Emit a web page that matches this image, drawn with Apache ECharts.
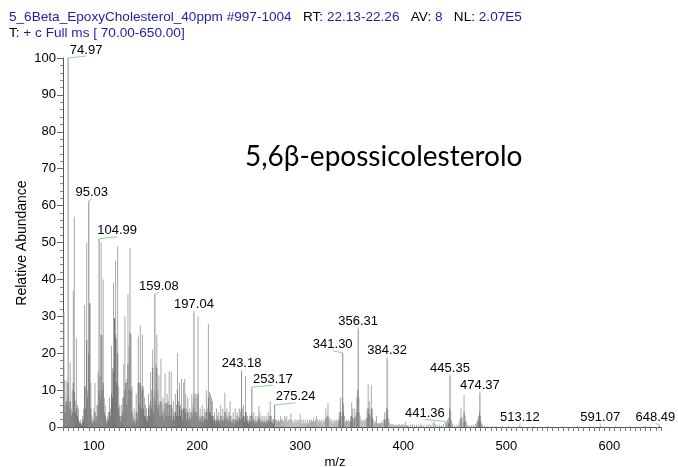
<!DOCTYPE html>
<html>
<head>
<meta charset="utf-8">
<script src="https://cdn.jsdelivr.net/npm/echarts@6/dist/echarts.min.js"></script>
<style>
  html, body { margin: 0; padding: 0; background: #fff; }
  #chart { width: 678px; height: 467px; }
</style>
</head>
<body>
<div id="chart"></div>
<script>
// Mass spectrum of 5,6beta-epoxycholesterol, scans #997-1004 averaged.

// Nominal-mass stick intensities (relative %), one value per m/z starting at runStart.
const runStart = 70;
const lightRun = [
  4, 31, 6, 12.6, 8, 12, 7, 17.5, 5, 10,          // 70-79
  37, 57, 7, 24, 6, 5, 1.5, 2, 1, 3,              // 80-89
  5, 33, 11, 50, 10, 20, 33.5, 12, 3, 2,          // 90-99
  5, 12, 3, 6, 15, 14, 14, 50, 25, 40,            // 100-109
  8, 6, 2, 3, 4, 8, 5, 22, 16, 39,                // 110-119
  29.5, 45, 24, 49, 11, 6, 3, 6, 8, 17,           // 120-129
  30, 12, 13, 36, 22, 48.5, 25, 11, 3, 5,         // 130-139
  2, 9, 4, 24.5, 12, 27.5, 11, 25, 11, 8,         // 140-149
  6, 5, 3, 9, 6, 15, 10, 21, 8, 10,               // 150-159
  17, 25, 10, 14, 7, 18.5, 6, 8, 5, 14.5,         // 160-169
  6, 9, 7, 15, 6, 15, 5, 7, 4, 9,                 // 170-179
  6, 20, 7, 12, 6, 13, 5, 12, 13, 9,              // 180-189
  5, 8, 4, 5, 4, 9, 6, 8, 9, 9,                   // 190-199
  8, 30, 3, 5, 3, 6, 3, 5, 4, 10,                 // 200-209
  5, 28, 9.5, 9, 8, 7, 3, 4, 2, 5,                // 210-219
  3, 4, 2, 6, 3, 5, 3, 9.3, 4, 5,                 // 220-229
  3, 4, 7, 3, 2, 4, 2, 5, 3, 4,                   // 230-239
  3, 5, 4, 5, 5, 6, 3, 13.8, 4, 3,                // 240-249
  2, 3, 3, 4, 3, 4, 2, 3, 2, 3,                   // 250-259
  5.7, 4, 2, 3, 2, 3, 2, 3, 2, 4,                 // 260-269
  3, 7, 3, 2, 2, 2, 2, 2, 1.5, 2,                 // 270-279
  1.5, 3, 2, 2, 1.5, 3, 2, 3, 1.5, 2,             // 280-289
  2, 3.7, 2, 1.5, 1, 2, 1.5, 2, 1.5, 2,           // 290-299
  3.5, 2, 1, 2, 1, 2, 1, 2, 1, 2,                 // 300-309
  1.5, 2, 1.5, 2.5, 1.5, 2, 3, 2, 1.5, 2,         // 310-319
  1.5, 2, 1, 2, 1.5, 5, 3, 6.5, 2, 2.5,           // 320-329
  1.5, 2, 1, 2, 1.5, 2, 1.5, 2, 4, 8,             // 330-339
  3, 5, 6.4, 3, 1.5, 2, 1.5, 2, 1.5, 3,           // 340-349
  6.6, 5, 2, 5, 3, 8, 9, 8, 3, 2,                 // 350-359
  1.5, 2, 1.5, 2, 2.5, 5, 11.6, 7, 3, 11.3,       // 360-369
  5, 2, 1, 1.5, 3, 1, 1, 1, 1, 1.5,               // 370-379
  1, 2, 4, 2, 4, 5, 2, 1, 0.8, 0.6,               // 380-389
  0.8, 0.5, 0.6, 0.5, 0.6, 0.5, 0.8, 0.5, 0.6, 0.8, // 390-399
  0.6, 0.5, 1.4, 0.6                              // 400-403
];

// Lower-lying dense signal in the fragment-rich region (m/z 70-275).
const darkRun = [
  4, 12.6, 4, 7, 6, 12, 5, 7, 3, 4,               // 70-79
  12, 9.5, 4, 5, 3, 2, 1, 1, 0.5, 1.5,            // 80-89
  2, 11, 5, 23.5, 8, 20, 33.5, 5, 1.5, 1,         // 90-99
  2, 4, 1.5, 3, 6, 10, 8, 25, 10, 12,             // 100-109
  4, 3, 1, 1.5, 2, 4, 3, 9, 8, 15,                // 110-119
  29.5, 25, 12, 20, 5, 3, 1.5, 3, 4, 8,           // 120-129
  10, 12, 6, 17, 10, 25.5, 10, 4, 1.5, 2,         // 130-139
  1, 4, 2, 12, 6, 12, 5, 10, 5, 3,                // 140-149
  3, 2, 1.5, 5, 3, 7, 5, 16, 4, 6,                // 150-159
  7, 16, 5, 6, 3, 7, 3, 4, 2, 6.5,                // 160-169
  3, 6.5, 3, 6, 3, 6, 2, 3, 2, 4,                 // 170-179
  3, 10, 3, 5.5, 3, 4.5, 2, 5, 5, 4,              // 180-189
  2, 4, 2, 2.5, 2, 4, 3, 5, 4, 4,                 // 190-199
  3, 9, 1.5, 2.5, 1.5, 3, 1.5, 2.5, 2, 4,         // 200-209
  2, 8, 4, 4, 3, 3, 1.5, 2, 1, 2,                 // 210-219
  1.5, 2, 1, 3, 1.5, 2, 1.5, 4, 2, 2.5,           // 220-229
  1.5, 2, 3, 1.5, 1, 2, 1, 2, 1.5, 2,             // 230-239
  1.5, 2.5, 2, 5, 2.5, 3, 1.5, 4, 2, 1.5,         // 240-249
  1, 1.5, 1.5, 3, 1.5, 2, 1, 1.5, 1, 1.5,         // 250-259
  2.5, 2, 1, 1.5, 1, 1.5, 1, 1.5, 1, 2,           // 260-269
  1.5, 3, 1.5, 1, 1, 2.5                          // 270-275
];

// Dense signal under the high-mass clusters.
const darkExtraMz  = [325, 327, 338, 339, 341, 342, 349, 350, 351, 353, 355, 356, 357, 365, 366, 367, 369, 370, 382, 384, 385, 444, 445, 446, 456, 459, 460, 473, 474, 475];
const darkExtraInt = [2.5, 3, 2, 4, 8, 4, 1.5, 3, 2.5, 2.5, 4, 10, 4, 2.5, 5, 3.5, 5, 2.5, 2, 5, 2.5, 1, 5, 2, 2.5, 4, 1.5, 1.5, 4, 1.5];

// Sparse sticks above m/z 403.
const tailMz  = [404, 405, 407, 409, 411, 413, 415, 417, 418, 420, 423, 425, 427, 429, 430, 431, 433, 435, 437, 439, 442, 443, 444, 446, 447, 448, 450, 452, 454, 455, 456, 457, 458, 459, 460, 461, 462, 464, 466, 468, 470, 471, 472, 473, 475, 476, 477, 479, 482, 486, 490, 496, 502, 526, 540, 555, 569, 606, 620, 635];
const tailInt = [0.5, 0.4, 0.6, 0.8, 0.5, 0.6, 0.5, 1.0, 0.6, 0.5, 0.6, 0.8, 0.6, 1.2, 1.5, 0.8, 0.5, 0.6, 0.5, 0.8, 1.0, 2.0, 2.5, 4.5, 1.5, 0.8, 0.5, 0.6, 1.0, 2.0, 5.1, 2.5, 1.5, 8.7, 3.0, 1.5, 0.6, 0.5, 0.5, 0.6, 0.8, 1.2, 2.0, 3.0, 3.0, 1.0, 0.6, 0.4, 0.3, 0.3, 0.3, 0.3, 0.3, 0.3, 0.3, 0.3, 0.3, 0.3, 0.3, 0.3];

// Annotated peaks: accurate m/z and relative abundance.
const labeledMz  = [74.97, 95.03, 104.99, 159.08, 197.04, 243.18, 253.17, 275.24, 341.30, 356.31, 384.32, 441.36, 445.35, 474.37, 513.12, 591.07, 648.49];
const labeledInt = [100, 61.3, 51, 36, 31, 15, 10.8, 6, 20.1, 26.5, 18.6, 1.5, 13.8, 9.1, 0.4, 0.4, 0.5];

const xTickLabels = [100, 200, 300, 400, 500, 600];
const xRange = [70, 650];

// Horizontal nudge (px) of each annotation relative to its peak.
const labelNudge = {
  '74.97': 18, '95.03': 3, '104.99': 18, '159.08': 4, '253.17': 21,
  '275.24': 21, '341.30': -10, '441.36': -21, '648.49': -4
};

const lightData = lightRun.map((v, i) => [runStart + i, v])
  .concat(tailMz.map((m, i) => [m, tailInt[i]]));
const darkData = darkRun.map((v, i) => [runStart + i, v])
  .concat(darkExtraMz.map((m, i) => [m, darkExtraInt[i]]));
const labeledData = labeledMz.map((m, i) => [m, labeledInt[i]]);

const xMinorTicks = [];
for (let m = xRange[0]; m <= xRange[1]; m += 5) xMinorTicks.push(m);

function stick(color, width) {
  return function (params, api) {
    const b = api.coord([api.value(0), 0]);
    const t = api.coord([api.value(0), api.value(1)]);
    return {
      type: 'line', silent: true,
      shape: { x1: b[0], y1: b[1], x2: t[0], y2: t[1] },
      style: { stroke: color, lineWidth: width }
    };
  };
}

function annotatedPeak(params, api) {
  const mz = api.value(0);
  const b = api.coord([mz, 0]);
  const t = api.coord([mz, api.value(1)]);
  const text = mz.toFixed(2);
  const dx = labelNudge[text] || 0;
  return {
    type: 'group', silent: true,
    children: [
      { type: 'line', shape: { x1: b[0], y1: b[1], x2: t[0], y2: t[1] },
        style: { stroke: '#8a8a8a', lineWidth: 1 } },
      { type: 'line', shape: { x1: t[0], y1: t[1], x2: t[0] + dx, y2: t[1] - 2 },
        style: { stroke: '#8fd88f', lineWidth: 1 } },
      { type: 'text',
        style: { text: text, x: t[0] + dx, y: t[1] - 8, fill: '#000',
                 font: '13px "Liberation Sans", Arial, sans-serif',
                 align: 'center', verticalAlign: 'middle' } }
    ]
  };
}

const BLUE = '#1e1ea8';
const chart = echarts.init(document.getElementById('chart'), null, { renderer: 'canvas' });
chart.setOption({
  animation: false,
  backgroundColor: '#fff',
  textStyle: { fontFamily: '"Liberation Sans", Arial, sans-serif' },
  grid: { left: 63, right: 17, top: 58, bottom: 40, containLabel: false, outerBoundsMode: 'none' },
  xAxis: {
    type: 'value', min: xRange[0], max: xRange[1],
    axisLine: { show: true, onZero: false, lineStyle: { color: '#555', width: 1 } },
    axisTick: { show: true, customValues: xMinorTicks, length: 4, lineStyle: { color: '#777' } },
    axisLabel: { customValues: xTickLabels, color: '#000', fontSize: 13, margin: 13 },
    splitLine: { show: false }
  },
  yAxis: {
    type: 'value', min: 0, max: 100, interval: 10,
    axisLine: { show: true, lineStyle: { color: '#555', width: 1 } },
    axisTick: { show: true, length: 6, lineStyle: { color: '#666' } },
    minorTick: { show: true, splitNumber: 5, length: 3, lineStyle: { color: '#888' } },
    axisLabel: { color: '#000', fontSize: 13, margin: 7 },
    splitLine: { show: false }
  },
  graphic: [
    { type: 'text', x: 9, y: 17,
      style: {
        text: '{b|5_6Beta_EpoxyCholesterol_40ppm #997-1004}   {k|RT:} {b|22.13-22.26}   {k|AV:} {b|8}   {k|NL:} {b|2.07E5}',
        verticalAlign: 'middle',
        rich: {
          b: { fill: BLUE, font: '13.6px "Liberation Sans", Arial, sans-serif' },
          k: { fill: '#000', font: '13.6px "Liberation Sans", Arial, sans-serif' }
        },
        font: '13.6px "Liberation Sans", Arial, sans-serif'
      } },
    { type: 'text', x: 9, y: 33.5,
      style: {
        text: '{k|T:} {b|+ c Full ms [ 70.00-650.00]}',
        verticalAlign: 'middle',
        rich: {
          b: { fill: BLUE, font: '13.6px "Liberation Sans", Arial, sans-serif' },
          k: { fill: '#000', font: '13.6px "Liberation Sans", Arial, sans-serif' }
        },
        font: '13.6px "Liberation Sans", Arial, sans-serif'
      } },
    { type: 'text', x: 245, y: 157,
      style: { text: '5,6β-epossicolesterolo', fill: '#000',
               font: '28px Lato, "Open Sans", sans-serif', verticalAlign: 'middle' } },
    { type: 'text', x: 22, y: 243, rotation: Math.PI / 2,
      style: { text: 'Relative Abundance', fill: '#000',
               font: '14px "Liberation Sans", Arial, sans-serif',
               align: 'center', verticalAlign: 'middle' } },
    { type: 'text', x: 335, y: 462,
      style: { text: 'm/z', fill: '#000',
               font: '13px "Liberation Sans", Arial, sans-serif',
               align: 'center', verticalAlign: 'middle' } }
  ],
  series: [
    { type: 'custom', name: 'profile', data: lightData, renderItem: stick('#a9a9a9', 1), clip: true, z: 2 },
    { type: 'custom', name: 'dense', data: darkData, renderItem: stick('#767676', 1), clip: true, z: 3 },
    { type: 'custom', name: 'annotated', data: labeledData, renderItem: annotatedPeak, clip: false, z: 4 }
  ]
});
</script>
</body>
</html>
